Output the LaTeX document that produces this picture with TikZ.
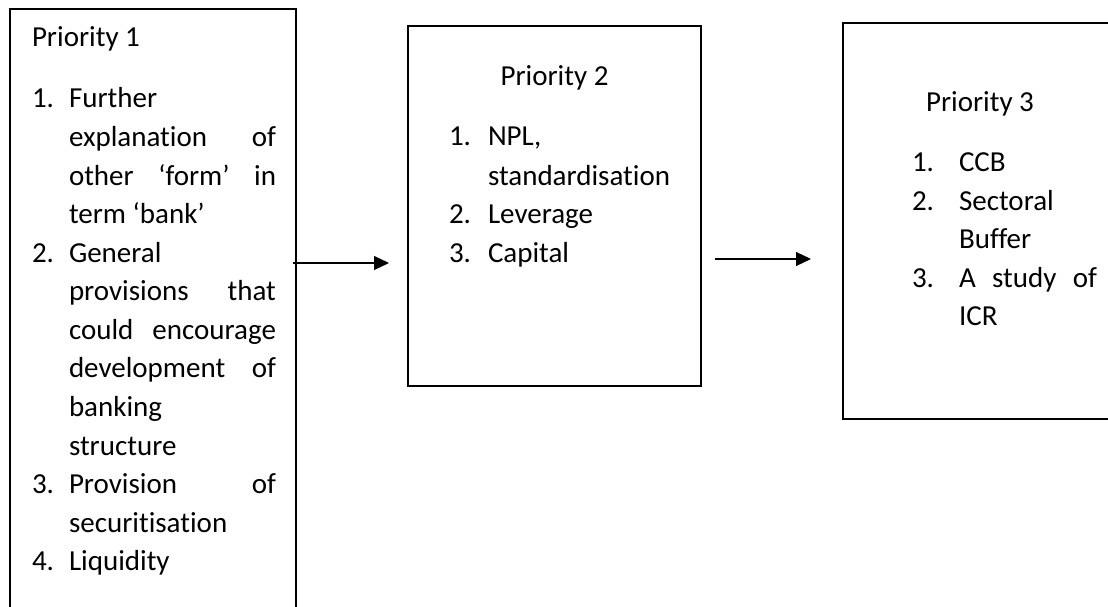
\documentclass[tikz,border=0pt]{standalone}
\usepackage{fontspec}
\setmainfont{Carlito}[Ligatures={NoCommon}]
\usetikzlibrary{arrows.meta}
\tikzset{
  box/.style={draw=black, line width=2pt, rectangle, inner sep=0pt},
  txt/.style={anchor=base west, inner sep=0pt, outer sep=0pt, font=\fontsize{29}{38.5}\selectfont},
  arr/.style={line width=1.1pt, -{Triangle[length=15pt,width=14pt]}}
}
\begin{document}
\begin{tikzpicture}[x=1pt,y=-1pt]
\useasboundingbox (0,0) rectangle (1108,607);
\clip (0,0) rectangle (1108,607);
% boxes
\node[box, minimum width=286pt, minimum height=640pt] (p1) at (153,329) {};
\node[box, minimum width=293pt, minimum height=360pt] (p2) at (554.5,206) {};
\node[box, minimum width=290pt, minimum height=396pt] (p3) at (988,221) {};
% box 1 text
\node[txt] (h1) at (32,47) {Priority 1};
\node[txt] (n11) at (32,108) {1.};
\node[txt] (a1) at (69,108) {Further};
\node[txt] (a2) at (69,146.6) {\makebox[207pt][l]{explanation\hfill of}};
\node[txt] (a3) at (69,185) {\makebox[207pt][l]{other\hfill ‘form’\hfill in}};
\node[txt] (a4) at (69,223.5) {term ‘bank’};
\node[txt] (n12) at (32,262) {2.};
\node[txt] (b1) at (69,262) {General};
\node[txt] (b2) at (69,300.5) {\makebox[207pt][l]{provisions\hfill that}};
\node[txt] (b3) at (69,339) {\makebox[207pt][l]{could\hfill encourage}};
\node[txt] (b4) at (69,377.5) {\makebox[207pt][l]{development\hfill of}};
\node[txt] (b5) at (69,416) {banking};
\node[txt] (b6) at (69,455) {structure};
\node[txt] (n13) at (32,493.5) {3.};
\node[txt] (c1) at (69,493.5) {\makebox[207pt][l]{Provision\hfill of}};
\node[txt] (c2) at (69,532) {securitisation};
\node[txt] (n14) at (32,570.5) {4.};
\node[txt] (d1) at (69,570.5) {Liquidity};
% box 2 text
\node[anchor=base, inner sep=0pt, font=\fontsize{29}{38.5}\selectfont] (h2) at (554.5,86) {Priority 2};
\node[txt] (n21) at (449,146) {1.};
\node[txt] (e1) at (488,146) {NPL,};
\node[txt] (e2) at (488,185) {standardisation};
\node[txt] (n22) at (449,223.5) {2.};
\node[txt] (e3) at (488,223.5) {Leverage};
\node[txt] (n23) at (449,262) {3.};
\node[txt] (e4) at (488,262) {Capital};
% box 3 text
\node[txt] (h3) at (926,112) {Priority 3};
\node[txt] (n31) at (912,171.5) {1.};
\node[txt] (f1) at (959,171.5) {CCB};
\node[txt] (n32) at (912,210) {2.};
\node[txt] (f2) at (959,210) {Sectoral};
\node[txt] (f3) at (959,248.5) {Buffer};
\node[txt] (n33) at (912,287) {3.};
\node[txt] (f4) at (959,287) {\makebox[138pt][l]{A\hfill study\hfill of}};
\node[txt] (f5) at (959,325.5) {ICR};
% arrows
\coordinate (y1) at (0,263);
\coordinate (y2) at (0,259);
\draw[arr, shorten <=-4pt, shorten >=18pt] (p1.east |- y1) -- (p2.west |- y1);
\draw[arr, shorten <=13pt, shorten >=31pt] (p2.east |- y2) -- (p3.west |- y2);
\end{tikzpicture}
\end{document}
